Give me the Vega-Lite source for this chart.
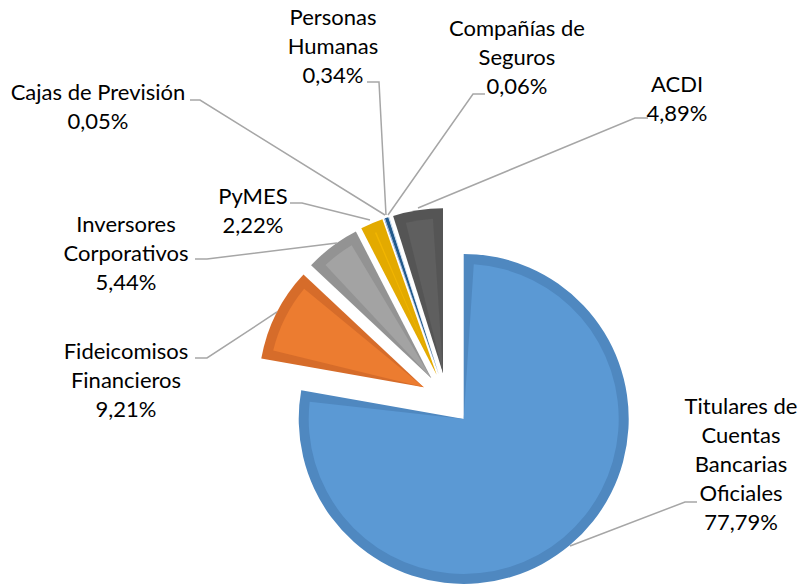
{
  "$schema": "https://vega.github.io/schema/vega-lite/v6.json",
  "width": 800,
  "height": 585,
  "autosize": {"type": "fit", "contains": "padding"},
  "padding": 0,
  "background": "white",
  "config": {"view": {"stroke": null}},
  "datasets": {
    "sectores": [
      {"categoria": "Titulares de Cuentas Bancarias Oficiales", "valor": 77.79, "orden": 1},
      {"categoria": "Fideicomisos Financieros", "valor": 9.21, "orden": 2},
      {"categoria": "Inversores Corporativos", "valor": 5.44, "orden": 3},
      {"categoria": "PyMES", "valor": 2.22, "orden": 4},
      {"categoria": "Cajas de Previsión", "valor": 0.05, "orden": 5},
      {"categoria": "Personas Humanas", "valor": 0.34, "orden": 6},
      {"categoria": "Compañías de Seguros", "valor": 0.06, "orden": 7},
      {"categoria": "ACDI", "valor": 4.89, "orden": 8}
    ],
    "etiquetas": [
      {"categoria": "Titulares de Cuentas Bancarias Oficiales", "texto": "Titulares de\nCuentas\nBancarias\nOficiales\n77,79%", "u": 1.7818, "v": -0.0485},
      {"categoria": "Fideicomisos Financieros", "texto": "Fideicomisos\nFinancieros\n9,21%", "u": -1.9455, "v": 0.2848},
      {"categoria": "Inversores Corporativos", "texto": "Inversores\nCorporativos\n5,44%", "u": -1.9455, "v": 1.0545},
      {"categoria": "PyMES", "texto": "PyMES\n2,22%", "u": -1.1758, "v": 1.2242},
      {"categoria": "Cajas de Previsión", "texto": "Cajas de Previsión\n0,05%", "u": -2.1152, "v": 1.8545},
      {"categoria": "Personas Humanas", "texto": "Personas\nHumanas\n0,34%", "u": -0.6909, "v": 2.3091},
      {"categoria": "Compañías de Seguros", "texto": "Compañías de\nSeguros\n0,06%", "u": 0.4242, "v": 2.2424},
      {"categoria": "ACDI", "texto": "ACDI\n4,89%", "u": 1.3939, "v": 1.903}
    ],
    "guias": [
      {"categoria": "Cajas de Previsión", "k": 1, "u": -1.5576, "v": 1.8121},
      {"categoria": "Cajas de Previsión", "k": 2, "u": -1.497, "v": 1.8121},
      {"categoria": "Cajas de Previsión", "k": 3, "u": -0.3758, "v": 1.1152},
      {"categoria": "Personas Humanas", "k": 1, "u": -0.4848, "v": 1.9212},
      {"categoria": "Personas Humanas", "k": 2, "u": -0.4121, "v": 1.9212},
      {"categoria": "Personas Humanas", "k": 3, "u": -0.3697, "v": 1.1152},
      {"categoria": "Compañías de Seguros", "k": 1, "u": 0.2303, "v": 1.8485},
      {"categoria": "Compañías de Seguros", "k": 2, "u": 0.1576, "v": 1.8485},
      {"categoria": "Compañías de Seguros", "k": 3, "u": -0.3576, "v": 1.1152},
      {"categoria": "ACDI", "k": 1, "u": 1.2182, "v": 1.703},
      {"categoria": "ACDI", "k": 2, "u": 1.1394, "v": 1.703},
      {"categoria": "ACDI", "k": 3, "u": -0.1758, "v": 1.1576},
      {"categoria": "PyMES", "k": 1, "u": -0.9515, "v": 1.1879},
      {"categoria": "PyMES", "k": 2, "u": -0.8788, "v": 1.1879},
      {"categoria": "PyMES", "k": 3, "u": -0.4667, "v": 1.0848},
      {"categoria": "Inversores Corporativos", "k": 1, "u": -1.5273, "v": 0.8485},
      {"categoria": "Inversores Corporativos", "k": 2, "u": -1.4545, "v": 0.8485},
      {"categoria": "Inversores Corporativos", "k": 3, "u": -0.6667, "v": 0.9455},
      {"categoria": "Fideicomisos Financieros", "k": 1, "u": -1.5273, "v": 0.2485},
      {"categoria": "Fideicomisos Financieros", "k": 2, "u": -1.4545, "v": 0.2485},
      {"categoria": "Fideicomisos Financieros", "k": 3, "u": -1.0303, "v": 0.5273},
      {"categoria": "Titulares de Cuentas Bancarias Oficiales", "k": 1, "u": 1.5152, "v": -0.6242},
      {"categoria": "Titulares de Cuentas Bancarias Oficiales", "k": 2, "u": 1.4424, "v": -0.6242},
      {"categoria": "Titulares de Cuentas Bancarias Oficiales", "k": 3, "u": 0.7455, "v": -0.8909}
    ]
  },
  "layer": [
    {
      "data": {"name": "sectores"},
      "transform": [
        {"window": [{"op": "sum", "field": "valor", "as": "acum"}], "sort": [{"field": "orden"}], "frame": [null, 0]},
        {"calculate": "datum.acum - datum.valor", "as": "inicio"},
        {"calculate": "PI * (datum.acum + datum.inicio) / 100", "as": "medio"},
        {"calculate": "0.1576 * sin(datum.medio)", "as": "cx"},
        {"calculate": "0.1576 * cos(datum.medio)", "as": "cy"}
      ],
      "encoding": {
        "x": {"field": "cx", "type": "quantitative", "scale": {"domain": [-2.70909, 2.13939], "nice": false, "zero": false}, "axis": null},
        "y": {"field": "cy", "type": "quantitative", "scale": {"domain": [-1.12727, 2.41818], "nice": false, "zero": false}, "axis": null},
        "theta": {"field": "inicio", "type": "quantitative", "scale": {"domain": [0, 100], "range": [0, 6.283185307]}},
        "theta2": {"field": "acum"}
      },
      "layer": [
        {
          "mark": {"type": "arc", "outerRadius": 165},
          "encoding": {
            "color": {
              "field": "categoria", "type": "nominal", "legend": null,
              "scale": {
                "domain": ["Titulares de Cuentas Bancarias Oficiales", "Fideicomisos Financieros", "Inversores Corporativos", "PyMES", "Cajas de Previsión", "Personas Humanas", "Compañías de Seguros", "ACDI"],
                "range": ["#4F88C0", "#D66C2A", "#939393", "#E3AA00", "#4472C4", "#21598C", "#A9C8E8", "#555555"]
              }
            }
          }
        },
        {
          "mark": {"type": "arc", "outerRadius": 155, "padAngle": 0.13},
          "encoding": {
            "fill": {
              "field": "categoria", "type": "nominal", "legend": null,
              "scale": {
                "domain": ["Titulares de Cuentas Bancarias Oficiales", "Fideicomisos Financieros", "Inversores Corporativos", "PyMES", "Cajas de Previsión", "Personas Humanas", "Compañías de Seguros", "ACDI"],
                "range": ["#5B99D4", "#EC7C30", "#A3A3A3", "#F2B600", "#4472C4", "#21598C", "#A9C8E8", "#5F5F5F"]
              }
            }
          }
        }
      ]
    },
    {
      "data": {"name": "guias"},
      "mark": {"type": "line", "color": "#A6A6A6", "strokeWidth": 1.5},
      "encoding": {
        "x": {"field": "u", "type": "quantitative", "scale": {"domain": [-2.70909, 2.13939], "nice": false, "zero": false}, "axis": null},
        "y": {"field": "v", "type": "quantitative", "scale": {"domain": [-1.12727, 2.41818], "nice": false, "zero": false}, "axis": null},
        "detail": {"field": "categoria", "type": "nominal"},
        "order": {"field": "k", "type": "quantitative"}
      }
    },
    {
      "data": {"name": "etiquetas"},
      "mark": {"type": "text", "font": "Lato", "fontSize": 22, "lineHeight": 29, "lineBreak": "\n", "align": "center", "baseline": "middle", "color": "#000000"},
      "encoding": {
        "x": {"field": "u", "type": "quantitative", "scale": {"domain": [-2.70909, 2.13939], "nice": false, "zero": false}, "axis": null},
        "y": {"field": "v", "type": "quantitative", "scale": {"domain": [-1.12727, 2.41818], "nice": false, "zero": false}, "axis": null},
        "text": {"field": "texto", "type": "nominal"}
      }
    }
  ]
}
